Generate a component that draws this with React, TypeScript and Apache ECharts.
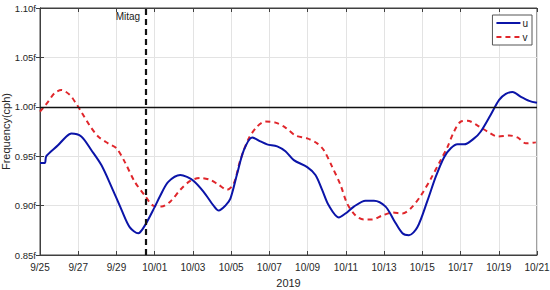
import React, { useEffect, useRef } from "react";
import * as echarts from "echarts";

// Days since 9/25 (2019)
const uDays = [0, 0.25, 0.33, 0.94, 1.38, 1.64, 2.16, 2.69, 3.21, 3.74, 4.26, 4.7, 5.14, 5.49, 6.01, 6.29, 6.71, 7.34, 7.69, 8.04, 8.56, 9.08, 9.35, 9.7, 9.96, 10.31, 10.66, 11.1, 11.53, 11.88, 12.41, 12.84, 13.28, 13.98, 14.41, 14.76, 15.11, 15.63, 15.98, 16.42, 17.03, 17.47, 18.08, 18.52, 18.96, 19.3, 19.74, 20.27, 20.7, 21.14, 21.49, 21.84, 22.19, 22.71, 23.06, 23.58, 24.02, 24.37, 24.72, 25.16, 25.59, 26.0];
const uValues = [0.943, 0.943, 0.95, 0.961, 0.97, 0.973, 0.97, 0.956, 0.941, 0.919, 0.896, 0.878, 0.872, 0.88, 0.899, 0.91, 0.924, 0.931, 0.929, 0.925, 0.914, 0.9, 0.895, 0.9, 0.907, 0.932, 0.956, 0.969, 0.965, 0.962, 0.96, 0.955, 0.946, 0.939, 0.931, 0.916, 0.9, 0.888, 0.892, 0.899, 0.905, 0.905, 0.899, 0.885, 0.872, 0.87, 0.878, 0.905, 0.929, 0.949, 0.958, 0.962, 0.962, 0.968, 0.975, 0.992, 1.007, 1.013, 1.015, 1.01, 1.006, 1.004];

const vDays = [0, 0.42, 0.77, 1.12, 1.56, 1.9, 2.16, 2.6, 3.04, 3.56, 4.0, 4.44, 4.96, 5.49, 5.92, 6.36, 6.81, 7.34, 7.86, 8.39, 8.91, 9.35, 9.78, 10.13, 10.48, 10.92, 11.36, 11.79, 12.32, 12.84, 13.36, 13.98, 14.5, 14.85, 15.29, 15.72, 16.07, 16.51, 16.94, 17.38, 17.91, 18.43, 18.96, 19.39, 19.92, 20.44, 20.96, 21.31, 21.66, 22.01, 22.36, 22.89, 23.41, 23.94, 24.55, 24.98, 25.42, 25.94];
const vValues = [0.995, 1.005, 1.014, 1.017, 1.012, 1.003, 0.995, 0.981, 0.97, 0.963, 0.958, 0.944, 0.924, 0.91, 0.9, 0.899, 0.904, 0.916, 0.925, 0.928, 0.926, 0.921, 0.916, 0.922, 0.946, 0.968, 0.98, 0.985, 0.984, 0.979, 0.971, 0.968, 0.963, 0.956, 0.939, 0.921, 0.902, 0.89, 0.886, 0.886, 0.89, 0.893, 0.892, 0.897, 0.91, 0.927, 0.946, 0.959, 0.975, 0.985, 0.986, 0.981, 0.975, 0.97, 0.971, 0.969, 0.963, 0.964];

const xTickLabels = ["9/25", "9/27", "9/29", "10/01", "10/03", "10/05", "10/07", "10/09", "10/11", "10/13", "10/15", "10/17", "10/19", "10/21"];
const yTickLabels = ["0.85f", "0.90f", "0.95f", "1.00f", "1.05f", "1.10f"];

const mitagDay = 5.55;
const refLevel = 1.0;

const FONT = "'Liberation Sans', Arial, sans-serif";

export default function App() {
  const ref = useRef<HTMLDivElement>(null);
  useEffect(() => {
    if (!ref.current) return;
    const chart = echarts.init(ref.current, undefined, { renderer: "svg" });
    const axisLineStyle = { color: "#404040", width: 1 };
    const xLabelFmt = (v: number) => {
      const i = Math.round(v / 2);
      return xTickLabels[i] ?? "";
    };
    const yLabelFmt = (v: number) => {
      const i = Math.round((v - 0.85) / 0.05);
      return yTickLabels[i] ?? "";
    };
    chart.setOption({
      animation: false,
      textStyle: { fontFamily: FONT },
      grid: {
        left: 40,
        right: 13,
        top: 8,
        bottom: 35,
        outerBoundsMode: "none",
        containLabel: false,
        show: true,
        borderColor: "#404040",
        borderWidth: 1,
        backgroundColor: "#fff",
      },
      legend: {
        orient: "vertical",
        right: 18,
        top: 15,
        itemWidth: 24,
        itemHeight: 10,
        itemGap: 4,
        padding: [3, 4, 3, 3],
        borderColor: "#555",
        borderWidth: 1,
        backgroundColor: "#fff",
        itemStyle: { opacity: 0 },
        textStyle: { fontFamily: FONT, fontSize: 10, color: "#222", padding: [0, 0, 0, -3] },
        data: ["u", "v"],
      },
      xAxis: [
        {
          type: "value",
          min: 0,
          max: 26,
          interval: 2,
          name: "2019",
          nameLocation: "middle",
          nameGap: 22,
          nameTextStyle: { fontFamily: FONT, fontSize: 11, color: "#262626" },
          axisLine: { show: true, lineStyle: axisLineStyle },
          axisTick: { show: true, inside: true, length: 4, lineStyle: axisLineStyle },
          axisLabel: { formatter: xLabelFmt, fontSize: 10, color: "#262626", margin: 7, fontFamily: FONT },
          splitLine: { show: true, lineStyle: { color: "#e3e3e3", width: 1 } },
        },
        {
          type: "value",
          position: "top",
          min: 0,
          max: 26,
          interval: 2,
          axisLine: { show: true, lineStyle: axisLineStyle },
          axisTick: { show: true, inside: true, length: 4, lineStyle: axisLineStyle },
          axisLabel: { show: false },
          splitLine: { show: false },
        },
      ],
      yAxis: [
        {
          type: "value",
          min: 0.85,
          max: 1.1,
          interval: 0.05,
          name: "Frequency(cph)",
          nameLocation: "middle",
          nameGap: 29,
          nameMoveOverlap: false,
          nameTextStyle: { fontFamily: FONT, fontSize: 11, color: "#262626" },
          axisLine: { show: true, lineStyle: axisLineStyle },
          axisTick: { show: true, inside: true, length: 4, lineStyle: axisLineStyle },
          axisLabel: { formatter: yLabelFmt, fontSize: 9.5, color: "#262626", margin: 4, fontFamily: FONT },
          splitLine: { show: true, lineStyle: { color: "#e3e3e3", width: 1 } },
        },
        {
          type: "value",
          position: "right",
          min: 0.85,
          max: 1.1,
          interval: 0.05,
          axisLine: { show: true, lineStyle: axisLineStyle },
          axisTick: { show: true, inside: true, length: 4, lineStyle: axisLineStyle },
          axisLabel: { show: false },
          splitLine: { show: false },
        },
      ],
      series: [
        {
          name: "u",
          type: "line",
          data: uDays.map((d, i) => [d, uValues[i]]),
          smooth: 0.3,
          showSymbol: false,
          symbol: "none",
          lineStyle: { color: "#0b14a8", width: 2 },
          itemStyle: { color: "#0b14a8" },
          z: 4,
          markLine: {
            silent: true,
            symbol: "none",
            label: { show: false },
            data: [
              { yAxis: refLevel, lineStyle: { color: "#111", width: 1.3, type: "solid" } },
              { xAxis: mitagDay, lineStyle: { color: "#111", width: 2.2, type: [6, 4] } },
            ],
          },
          markPoint: {
            silent: true,
            symbol: "circle",
            symbolSize: 0,
            label: {
              show: true,
              position: "left",
              distance: 6,
              formatter: "Mitag",
              fontSize: 10,
              color: "#222",
              fontFamily: FONT,
            },
            data: [{ coord: [mitagDay, 1.091] }],
          },
        },
        {
          name: "v",
          type: "line",
          data: vDays.map((d, i) => [d, vValues[i]]),
          smooth: 0.3,
          showSymbol: false,
          symbol: "none",
          lineStyle: { color: "#e0262b", width: 2, type: [5, 4] },
          itemStyle: { color: "#e0262b" },
          z: 3,
        },
      ],
    });
    return () => chart.dispose();
  }, []);
  return (
    <div
      ref={ref}
      style={{ position: "fixed", left: 0, top: 0, width: 550, height: 290, background: "#fff" }}
    />
  );
}
